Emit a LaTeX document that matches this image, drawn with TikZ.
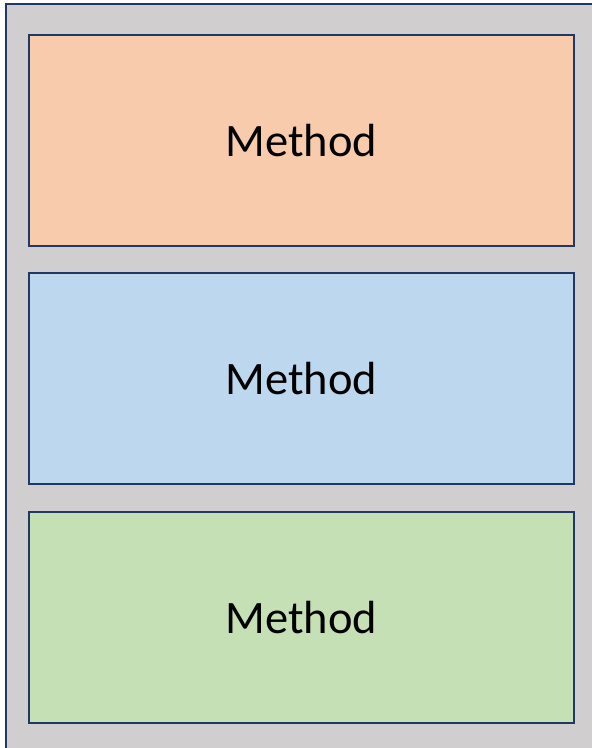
\documentclass[tikz,border=0pt]{standalone}
\usepackage{fontspec}
\setmainfont{Carlito}
\definecolor{panelgray}{HTML}{D0CECE}
\definecolor{navy}{HTML}{1F3864}
\definecolor{peach}{HTML}{F8CBAD}
\definecolor{skyblue}{HTML}{BDD7EE}
\definecolor{sage}{HTML}{C5E0B4}
\tikzset{
  methodbox/.style={draw=navy, line width=2.4pt, minimum width=545pt, minimum height=211pt,
    inner sep=0pt, font=\fontsize{46.5}{50}\selectfont},
}
\begin{document}
\begin{tikzpicture}[x=1pt,y=-1pt]
  \useasboundingbox (0,0) rectangle (592,748);
  \begin{scope}
    \clip (0,0) rectangle (592,748);
    \draw[navy, line width=2.4pt, fill=panelgray] (6,4) rectangle (610,770);
  \end{scope}
  \node[methodbox, fill=peach]   (m1) at (301.5,140.5) {Method};
  \node[methodbox, fill=skyblue] (m2) at (301.5,378.5) {Method};
  \node[methodbox, fill=sage]    (m3) at (301.5,617.5) {Method};
\end{tikzpicture}
\end{document}
